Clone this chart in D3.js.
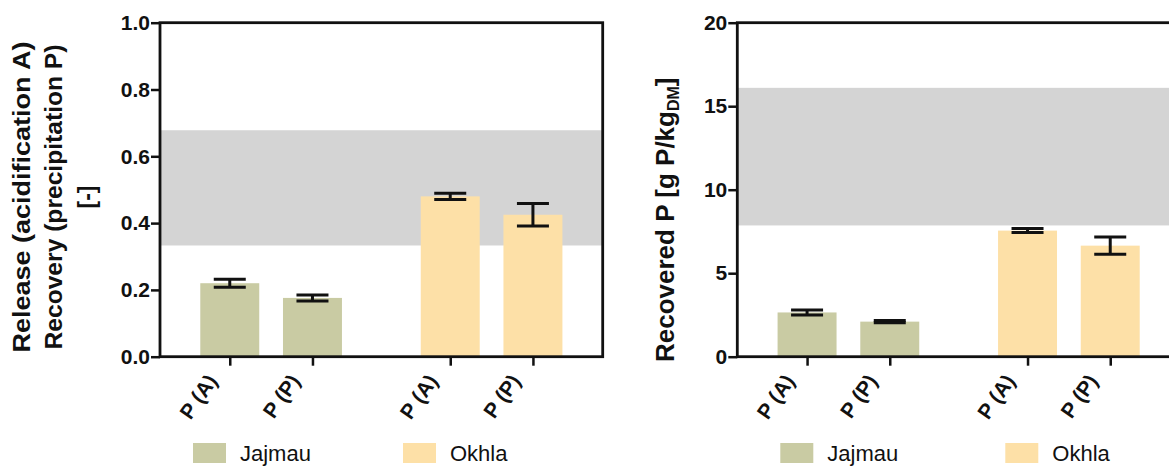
<!DOCTYPE html>
<html>
<head>
<meta charset="utf-8">
<script src="https://cdn.jsdelivr.net/npm/d3@7"></script>
<style>
  body { margin: 0; background: #fff; }
  svg { font-family: "Liberation Sans", Arial, sans-serif; display: block; }
</style>
</head>
<body>
<div id="container"></div>
<script>
// data
const sites = ["Jajmau", "Okhla"];
const categories = ["P (A)", "P (P)"];
const releaseMean = [0.22, 0.176, 0.48, 0.425];
const releaseErr = [0.012, 0.009, 0.009, 0.034];
const releaseBand = [0.333, 0.678];
const releaseTicks = [0, 0.2, 0.4, 0.6, 0.8, 1.0];
const recoveredMean = [2.65, 2.1, 7.55, 6.65];
const recoveredErr = [0.15, 0.07, 0.12, 0.52];
const recoveredBand = [7.86, 16.1];
const recoveredTicks = [0, 5, 10, 15, 20];

const colors = { Jajmau: "#c9cba3", Okhla: "#fde0a7" };

const width = 1169, height = 466;
const plotW = 442.7, plotH = 334, plotTop = 22.7;

const svg = d3.select("#container")
  .append("svg")
  .attr("width", width)
  .attr("height", height);

function panel(left, means, errs, band, ticks, fmt, legendX) {
  const g = svg.append("g").attr("transform", `translate(${left},${plotTop})`);

  const y = d3.scaleLinear().domain([ticks[0], ticks[ticks.length - 1]]).range([plotH, 0]);
  const outer = d3.scalePoint().domain(sites).range([0, plotW]).padding(0.504);
  const inner = d3.scaleBand().domain(categories).range([-82.7, 82.7])
    .paddingInner(0.287).paddingOuter(0.1435);

  const rows = sites.flatMap((s, i) => categories.map((c, j) => ({
    key: s + "|" + c, site: s, cat: c, v: means[i * 2 + j], e: errs[i * 2 + j]
  })));
  const cx = d => outer(d.site) + inner(d.cat) + inner.bandwidth() / 2;

  // grey reference range
  g.append("rect")
    .attr("x", 0).attr("width", plotW)
    .attr("y", y(band[1])).attr("height", y(band[0]) - y(band[1]))
    .attr("fill", "#d4d4d4");

  // bars
  g.selectAll(".bar").data(rows).join("rect")
    .attr("class", "bar")
    .attr("x", d => outer(d.site) + inner(d.cat))
    .attr("width", inner.bandwidth())
    .attr("y", d => y(d.v))
    .attr("height", d => y(0) - y(d.v))
    .attr("fill", d => colors[d.site]);

  // error bars
  const err = g.selectAll(".err").data(rows).join("g").attr("class", "err")
    .attr("stroke", "#111").attr("stroke-width", 3);
  err.append("line")
    .attr("x1", cx).attr("x2", cx)
    .attr("y1", d => y(d.v - d.e)).attr("y2", d => y(d.v + d.e));
  err.append("line")
    .attr("x1", d => cx(d) - 16).attr("x2", d => cx(d) + 16)
    .attr("y1", d => y(d.v + d.e)).attr("y2", d => y(d.v + d.e));
  err.append("line")
    .attr("x1", d => cx(d) - 16).attr("x2", d => cx(d) + 16)
    .attr("y1", d => y(d.v - d.e)).attr("y2", d => y(d.v - d.e));

  // frame
  g.append("rect")
    .attr("width", plotW).attr("height", plotH)
    .attr("fill", "none").attr("stroke", "#111").attr("stroke-width", 2.8);

  // y axis
  const ya = g.append("g")
    .call(d3.axisLeft(y).tickValues(ticks).tickFormat(fmt).tickSize(9).tickPadding(1));
  ya.select(".domain").remove();
  ya.selectAll("line").attr("stroke", "#111").attr("stroke-width", 2.5);
  ya.selectAll("text")
    .attr("font-size", 21).attr("font-weight", "bold").attr("fill", "#111");

  // x axis
  const xs = d3.scaleOrdinal().domain(rows.map(d => d.key)).range(rows.map(cx));
  const xa = g.append("g")
    .attr("transform", `translate(0,${plotH})`)
    .call(d3.axisBottom(xs).tickSize(9).tickFormat(k => k.split("|")[1]));
  xa.select(".domain").remove();
  xa.selectAll("line").attr("stroke", "#111").attr("stroke-width", 2.5);
  xa.selectAll("text")
    .attr("x", 0).attr("y", 0).attr("dy", "0.35em")
    .attr("transform", "translate(-18,20) rotate(-55)")
    .attr("text-anchor", "end")
    .attr("font-size", 21).attr("font-weight", "bold").attr("fill", "#111");

  // legend
  const lg = svg.append("g").attr("transform", `translate(${left},0)`);
  sites.forEach((s, i) => {
    const lx = legendX[i];
    lg.append("rect").attr("x", lx).attr("y", 443).attr("width", 33).attr("height", 20)
      .attr("fill", colors[s]);
    lg.append("text").attr("x", lx + 47).attr("y", 461)
      .attr("font-size", 22).attr("fill", "#111").text(s);
  });
  return g;
}

panel(160, releaseMean, releaseErr, releaseBand, releaseTicks, d3.format(".1f"), [33, 243]);
panel(737.3, recoveredMean, recoveredErr, recoveredBand, recoveredTicks, d3.format("d"), [43, 268]);

// y titles
const t1 = svg.append("text")
  .attr("transform", "translate(0,197) rotate(-90)")
  .attr("text-anchor", "middle")
  .attr("font-size", 23).attr("font-weight", "bold").attr("fill", "#111");
t1.append("tspan").attr("x", 0).attr("y", 30).attr("textLength", 311)
  .attr("lengthAdjust", "spacingAndGlyphs").text("Release (acidification A)");
t1.append("tspan").attr("x", 0).attr("y", 62).attr("textLength", 305)
  .attr("lengthAdjust", "spacingAndGlyphs").text("Recovery (precipitation P)");
t1.append("tspan").attr("x", 0).attr("y", 95).text("[-]");

const t2 = svg.append("text")
  .attr("transform", "translate(674,362) rotate(-90)")
  .attr("text-anchor", "start")
  .attr("font-size", 26).attr("font-weight", "bold").attr("fill", "#111");
t2.append("tspan").text("Recovered P [g P/kg");
t2.append("tspan").attr("font-size", 16).attr("dy", 5).text("DM");
t2.append("tspan").attr("dy", -5).text("]");
</script>
</body>
</html>
